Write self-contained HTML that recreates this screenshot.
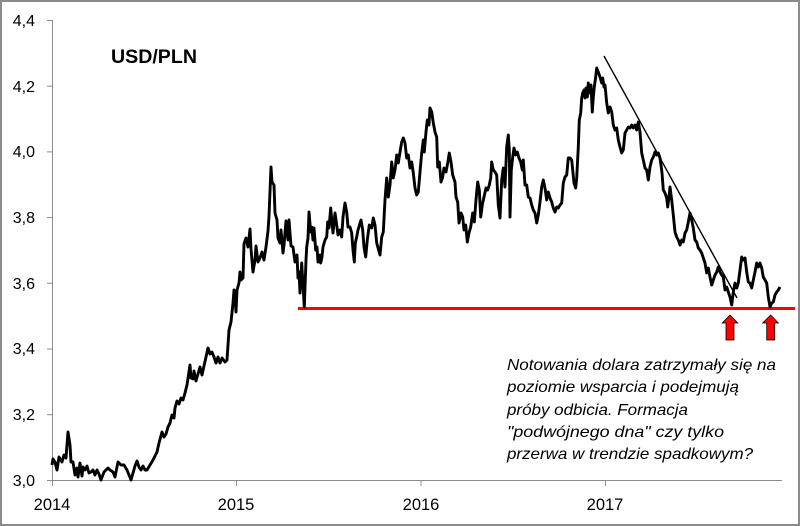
<!DOCTYPE html>
<html><head><meta charset="utf-8">
<style>
html,body{margin:0;padding:0;background:#fff;}
svg{display:block;}
text{font-family:"Liberation Sans",sans-serif;fill:#000;}
</style></head>
<body>
<svg width="800" height="526" viewBox="0 0 800 526" xmlns="http://www.w3.org/2000/svg">
<rect x="1" y="1" width="798" height="524" fill="#fff" stroke="#8a8a8a" stroke-width="2"/>
<!-- axes -->
<g stroke="#8c8c8c" stroke-width="1" fill="none">
<line x1="52.5" y1="20" x2="52.5" y2="480.5"/>
<line x1="52" y1="480.5" x2="782" y2="480.5"/>
<line x1="47" y1="20.5" x2="52" y2="20.5"/>
<line x1="47" y1="86.2" x2="52" y2="86.2"/>
<line x1="47" y1="151.9" x2="52" y2="151.9"/>
<line x1="47" y1="217.6" x2="52" y2="217.6"/>
<line x1="47" y1="283.3" x2="52" y2="283.3"/>
<line x1="47" y1="349" x2="52" y2="349"/>
<line x1="47" y1="414.7" x2="52" y2="414.7"/>
<line x1="47" y1="480.5" x2="52" y2="480.5"/>
<line x1="52.5" y1="480" x2="52.5" y2="486"/>
<line x1="236.5" y1="480" x2="236.5" y2="486"/>
<line x1="421" y1="480" x2="421" y2="486"/>
<line x1="605.5" y1="480" x2="605.5" y2="486"/>
</g>
<g font-size="16" text-anchor="end">
<text x="35" y="26">4,4</text>
<text x="35" y="92">4,2</text>
<text x="35" y="157">4,0</text>
<text x="35" y="223">3,8</text>
<text x="35" y="289">3,6</text>
<text x="35" y="354">3,4</text>
<text x="35" y="420">3,2</text>
<text x="35" y="486">3,0</text>
</g>
<g font-size="16.5" text-anchor="middle">
<text x="52" y="510">2014</text>
<text x="236" y="510">2015</text>
<text x="421" y="510">2016</text>
<text x="605" y="510">2017</text>
</g>
<text x="111" y="63" font-size="19" font-weight="bold" textLength="86" lengthAdjust="spacingAndGlyphs">USD/PLN</text>
<!-- support line -->
<line x1="298" y1="308.5" x2="795" y2="308.5" stroke="#ff0000" stroke-width="3"/>
<!-- series -->
<polyline fill="none" stroke="#000" stroke-width="2.9" stroke-linejoin="round" points="52,465 53,459 55,462 57,470 59,457 62,462 64,455 66,458 68,432 70,445 71,462 73,462 75,475 77,468 78,477 80,463 82,476 83,467 85,470 87,466 89,473 91,472 93,470 95,475 97,470 99,474 101,480 104,472 106,470 108,468 110,470 113,472 115,477 118,462 121,465 124,465 127,470 129,475 131,480 133,473 135,466 137,461 139,467 141,470 143,466 145,470 147,470 150,465 153,460 157,452 159,443 162,432 164,437 166,434 168,427 170,423 172,415 174,418 175,408 177,401 179,404 181,398 183,400 185,393 187,385 190,365 191,378 193,379 194,371 196,381 198,374 200,367 202,375 204,366 206,357 208,348 210,354 212,352 214,357 216,363 218,357 220,363 222,358 225,362 227,360 229,330 231,322 233,303 234,290 235,298 236,312 237,290 239,283 240,272 241,280 243,278 244,244 246,238 248,247 250,229 251,249 253,272 255,260 256,246 258,262 260,258 262,252 264,260 266,247 268,231 269,216 271,167 272,182 274,185 275,213 277,220 278,238 280,243 281,230 283,253 284,245 286,221 288,240 289,220 291,246 293,247 295,262 297,255 298,278 299,272 300,293 301.7,263 304.3,307 306,260 306.7,247 308,238 309,212 310.7,232 311.7,227 313,240 314,228 315.7,250 317,247 318,262 320,255 320.7,263 322,257 323,247 325,240 326.7,237 327.7,222 329,228 330.7,208 332,223 333,233 335,213 336.7,225 338,235 340,230 341.7,237 343,217 345,203 346.7,212 348,227 350,227 351.7,233 353,250 354.3,262 355.3,243 356.7,237 358,230 361,220 362.7,230 364,247 365.7,257 367.3,240 369.3,225 371.7,228 373.3,218 375,225 376.7,243 380,255 381.7,237 383.3,232 385,200 386.7,178 388.3,197 390,185 391.7,162 393.3,178 395,170 396.7,155 398.3,163 400,152 401.7,142 403.3,138 405,143 406.7,158 408.3,155 410,168 411.7,162 413.3,173 415,188 416.7,195 418.3,192 420,172 421.7,153 423.3,140 424.3,152 426,132 427.3,120 429,125 430,108 431.7,112 433.3,123 435,132 436.7,137 437.7,167 439.3,162 441,182 442.7,177 444,168 446,172 447.7,163 449.3,153 451,162 452.7,175 455,182 456,197 457.7,202 459,223 461,213 462.7,217 464,230 465.7,225 467.3,242 469,233 470.7,227 472.7,213 474.3,222 476,200 477.7,182 479.3,190 480.7,217 482.3,205 484,197 486,188 487.7,190 489.3,185 490.7,178 491.7,162 493.3,170 495,172 496.7,175 498.3,205 500,218 501.7,180 503.3,168 505,187 506.7,147 508.3,135 509.3,150 510,217 511.3,170 512.7,157 514,148 515.7,155 517.3,152 519,158 520.7,162 522.3,170 523.3,160 525,185 526.7,185 528.3,197 530,198 531.7,205 533.3,210 535,213 536.7,223 538.3,215 540,202 541.7,187 543.3,180 545,188 546.7,200 548.3,192 550,198 551.7,202 553.3,208 555,212 556.7,207 558.3,208 560,205 561.7,203 563.3,183 565,177 566.7,175 568.3,158 570,158 571.7,160 572.7,170 574,183 575.7,188 576.7,178 578.3,147 579.3,120 580.7,113 581.7,98 582.7,93 584,90 585,98 586,88 587.3,97 588.3,83 590,93 591,85 592.3,112 593.3,97 594.3,87 595.7,77 596.7,68 598.3,72 600,77 601.7,83 602.7,78 604,87 605,85 606.7,103 608.3,113 610,107 611.7,112 613.3,125 615,130 616.7,128 618.3,140 620,147 621.7,153 623.3,150 625,133 626.7,130 628.3,127 630,128 631.7,125 633.3,128 635,125 636.7,130 638.3,122 640,132 641.7,153 643.3,160 645,168 646.7,170 648.3,180 650,167 651.7,160 653.3,157 655,152 656.7,155 658.3,153 660,158 661,165 662,173 663.3,190 665,193 666.7,198 667.7,207 669,197 670,187 671.7,200 673.3,215 675,232 676.7,237 678.3,240 680,245 681.7,240 683.3,242 685,233 686.7,230 688.3,222 690,213 691.7,220 693.3,228 695,240 696.7,242 698.3,248 700,250 701.7,253 703.3,258 705,263 706.7,273 708.3,268 710,277 711.7,285 713.3,280 715,275 716.7,272 718.3,267 720,272 721.7,275 723.3,277 725,290 726.7,287 728.3,292 730,297 731.7,305 733.3,292 735,283 736.7,288 738.3,283 740,270 741.7,257 743.3,260 745,258 746.7,272 748.3,282 750,283 751.7,288 753.3,280 755,272 756.7,263 758.3,267 760,263 761.7,268 763.3,277 765,280 766.7,283 768.3,297 770,307 771.7,303 773.3,302 775,295 776.7,292 778.3,290 780,287"/>
<!-- trend line -->
<line x1="604" y1="56" x2="737" y2="298" stroke="#000" stroke-width="1.4"/>
<!-- arrows -->
<polygon points="730,315 737.7,323 734,323 734,340 726,340 726,323 722.3,323" fill="#ff0000" stroke="#000" stroke-width="0.8"/>
<polygon points="770.7,315 778.3,323 774.7,323 774.7,340 766.7,340 766.7,323 762.7,323" fill="#ff0000" stroke="#000" stroke-width="0.8"/>
<!-- annotation -->
<g font-size="16" font-style="italic" fill="#1a1a1a">
<text x="507" y="370" textLength="269" lengthAdjust="spacingAndGlyphs">Notowania dolara zatrzymały się na</text>
<text x="507" y="392" textLength="232" lengthAdjust="spacingAndGlyphs">poziomie wsparcia i podejmują</text>
<text x="507" y="415" textLength="181" lengthAdjust="spacingAndGlyphs">próby odbicia. Formacja</text>
<text x="507" y="437" textLength="217" lengthAdjust="spacingAndGlyphs">"podwójnego dna" czy tylko</text>
<text x="507" y="459" textLength="246" lengthAdjust="spacingAndGlyphs">przerwa w trendzie spadkowym?</text>
</g>
</svg>
</body></html>
